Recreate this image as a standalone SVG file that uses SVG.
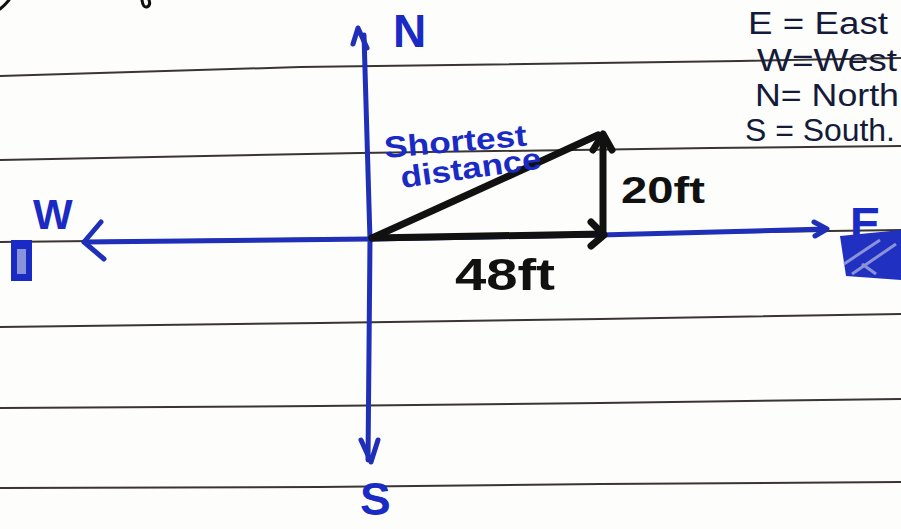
<svg xmlns="http://www.w3.org/2000/svg" width="901" height="529" viewBox="0 0 901 529">
<defs>
<style>
.rule{fill:none;stroke:#3a3530;stroke-width:2}
.axis{fill:none;stroke:#1f2fb8;stroke-width:5;stroke-linecap:round;stroke-linejoin:round}
.tri{fill:none;stroke:#111;stroke-width:7;stroke-linecap:round;stroke-linejoin:round}
.blue{fill:#1a2ac4;font-family:"Liberation Sans",Arial,sans-serif;font-weight:bold}
.ink{fill:#111;font-family:"Liberation Sans",Arial,sans-serif;font-weight:bold}
.leg{fill:#141a3a;font-family:"Liberation Sans",Arial,sans-serif}
</style>
</defs>
<rect width="901" height="529" fill="#fdfdfb"/>
<g id="paper-lines">
<polyline class="rule" points="0,76 300,67 740,61 901,58"/>
<polyline class="rule" points="0,160 360,153 710,148 901,146"/>
<polyline class="rule" points="0,242 370,238 830,231 901,230"/>
<polyline class="rule" points="0,327 320,323 600,319 901,314"/>
<polyline class="rule" points="0,408 320,406 600,403 901,399"/>
<polyline class="rule" points="0,488 320,487 600,484 901,482"/>
</g>
<g id="remnants" fill="none" stroke="#111" stroke-width="3" stroke-linecap="round">
<path d="M0,9 Q5,5 9,0"/>
<path d="M142,0 Q143,8 147,7 Q151,5 149,0"/>
</g>
<g id="connectors">
<path class="axis" d="M364,35 L370,240 L368,460"/>
<path class="axis" d="M353,44 L358,28 L367,48"/>
<path class="axis" d="M361,440 L371,462 L378,440"/>
<path class="axis" d="M84,242 L370,239 L600,235 L826,229"/>
<path class="axis" d="M101,222 L84,242 L104,259"/>
<path class="axis" d="M814,222 L827,229 L815,236"/>
</g>
<g id="triangle">
<path class="tri" d="M372,238 L603,234"/>
<path class="tri" d="M591,246 L604,235 L591,222"/>
<path class="tri" d="M603,232 L603,136"/>
<path class="tri" d="M593,150 L603,134 L612,150"/>
<path class="tri" d="M372,238 Q470,194 598,135"/>
</g>
<g id="labels">
<text class="blue" x="385" y="158" font-size="30" textLength="143" lengthAdjust="spacingAndGlyphs" transform="rotate(-5 385 158)">Shortest</text>
<text class="blue" x="402" y="188" font-size="30" textLength="142" lengthAdjust="spacingAndGlyphs" transform="rotate(-8 402 188)">distance</text>
<text class="ink" x="621" y="203" font-size="36" textLength="84" lengthAdjust="spacingAndGlyphs">20ft</text>
<text class="ink" x="455" y="290" font-size="44" textLength="100" lengthAdjust="spacingAndGlyphs">48ft</text>
</g>
<g id="north"><text class="blue" x="393" y="47" font-size="46" font-weight="normal">N</text></g>
<g id="south"><text class="blue" x="360" y="515" font-size="46" font-weight="normal">S</text></g>
<g id="west">
<text class="blue" x="33" y="229" font-size="42" font-weight="normal">W</text>
<rect x="11" y="240" width="21" height="41" fill="#1a2ac4"/>
<rect x="17" y="249" width="9" height="25" fill="#8a92d8"/>
</g>
<g id="east">
<text class="blue" x="850" y="240" font-size="46">E</text>
<path d="M840,236 L901,230 L901,280 L846,276 Z" fill="#2030c0"/>
<path d="M844,264 L880,240 M852,274 L896,244 M862,264 L876,274" stroke="#8a92d8" stroke-width="3" fill="none"/>
</g>
<g id="legend">
<text class="leg" x="748" y="34" font-size="31" textLength="140" lengthAdjust="spacingAndGlyphs">E = East</text>
<text class="leg" x="757" y="71" font-size="31" textLength="140" lengthAdjust="spacingAndGlyphs">W=West</text>
<text class="leg" x="755" y="106" font-size="31" textLength="144" lengthAdjust="spacingAndGlyphs">N= North</text>
<text class="leg" x="745" y="141" font-size="31" textLength="150" lengthAdjust="spacingAndGlyphs">S = South.</text>
</g>
</svg>
